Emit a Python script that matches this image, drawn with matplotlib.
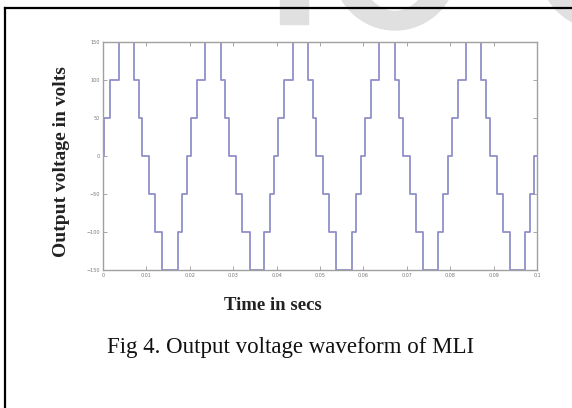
import matplotlib
matplotlib.use('Agg')
import matplotlib.pyplot as plt
from matplotlib.patches import Rectangle, Ellipse

# switching instants (s) and the level held after each one
t_steps = [0.0, 0.0003, 0.0017, 0.0036, 0.0071, 0.0082, 0.0090, 0.0106, 0.0120, 0.0137, 0.0172, 0.0183, 0.0193,
           0.0203, 0.0217, 0.0236, 0.0271, 0.0282, 0.0290, 0.0307, 0.0321, 0.0338, 0.0372, 0.0384, 0.0394,
           0.0404, 0.0418, 0.0437, 0.0472, 0.0483, 0.0491, 0.0507, 0.0521, 0.0538, 0.0573, 0.0584, 0.0594,
           0.0604, 0.0618, 0.0637, 0.0672, 0.0683, 0.0691, 0.0707, 0.0721, 0.0738, 0.0773, 0.0784, 0.0794,
           0.0804, 0.0818, 0.0837, 0.0872, 0.0883, 0.0891, 0.0907, 0.0921, 0.0938, 0.0973, 0.0984, 0.0994,
           0.1]
volts = [0, 50, 100, 150, 100, 50, 0, -50, -100, -150, -100, -50, 0,
         50, 100, 150, 100, 50, 0, -50, -100, -150, -100, -50, 0,
         50, 100, 150, 100, 50, 0, -50, -100, -150, -100, -50, 0,
         50, 100, 150, 100, 50, 0, -50, -100, -150, -100, -50, 0,
         50, 100, 150, 100, 50, 0, -50, -100, -150, -100, -50, 0,
         0]

x_ticks = [0, 0.01, 0.02, 0.03, 0.04, 0.05, 0.06, 0.07, 0.08, 0.09, 0.1]
x_labels = ['0', '0.01', '0.02', '0.03', '0.04', '0.05', '0.06', '0.07', '0.08', '0.09', '0.1']
y_ticks = [-150, -100, -50, 0, 50, 100, 150]

W, H = 572, 408
fig = plt.figure(figsize=(W / 100, H / 100), dpi=100)
fig.patch.set_facecolor('white')

# faint watermark shapes along the top edge
wm = '#e0e0e0'
fig.patches.append(Rectangle((280 / W, 1 - 24 / H), 28 / W, 24 / H, transform=fig.transFigure,
                             color=wm, zorder=0))
fig.patches.append(Ellipse((395 / W, 1 + 35 / H), 126 / W, 130 / H, transform=fig.transFigure,
                           color=wm, zorder=0))
fig.patches.append(Ellipse((395 / W, 1 + 35 / H), 70 / W, 90 / H, transform=fig.transFigure,
                           color='white', zorder=0))
fig.patches.append(Ellipse((605 / W, 1 + 30 / H), 130 / W, 120 / H, transform=fig.transFigure,
                           color=wm, zorder=0))

# black frame (left and top edges)
fig.add_artist(plt.Line2D([5 / W, 5 / W], [0, 1 - 8 / H], transform=fig.transFigure, color='black', lw=1.6))
fig.add_artist(plt.Line2D([5 / W, 1], [1 - 8 / H, 1 - 8 / H], transform=fig.transFigure, color='black', lw=1.6))

ax = fig.add_axes([103 / W, 1 - 270 / H, 434 / W, 228 / H])
ax.patch.set_alpha(0)
ax.step(t_steps, volts, where='post', color='#9090ca', lw=1.3)
ax.set_xlim(0, 0.1)
ax.set_ylim(-150, 150)
ax.set_xticks(x_ticks)
ax.set_xticklabels(x_labels)
ax.set_yticks(y_ticks)
ax.tick_params(direction='in', length=3, width=0.6, colors='#999999', labelsize=3.5,
               labelcolor='#777777', top=True, right=True, pad=2)
for s in ax.spines.values():
    s.set_color('#a0a0a0')
    s.set_linewidth(1.0)

ax.set_ylabel('Output voltage in volts', fontsize=14, fontweight='bold', family='Liberation Serif',
              color='#222222')
ax.yaxis.set_label_coords((62 - 103) / 434, (270 - 162) / 228)
ax.set_xlabel('Time in secs', fontsize=13.5, fontweight='bold', family='Liberation Serif',
              color='#222222')
ax.xaxis.set_label_coords((273 - 103) / 434, -(305 - 270) / 228)
ax.xaxis.label.set_va('center')
ax.yaxis.label.set_va('center')

fig.text(291 / W, 1 - 348 / H, 'Fig 4. Output voltage waveform of MLI', ha='center', va='center',
         fontsize=16.5, family='Liberation Serif', color='#111111')

fig.savefig('out.png', dpi=100)
